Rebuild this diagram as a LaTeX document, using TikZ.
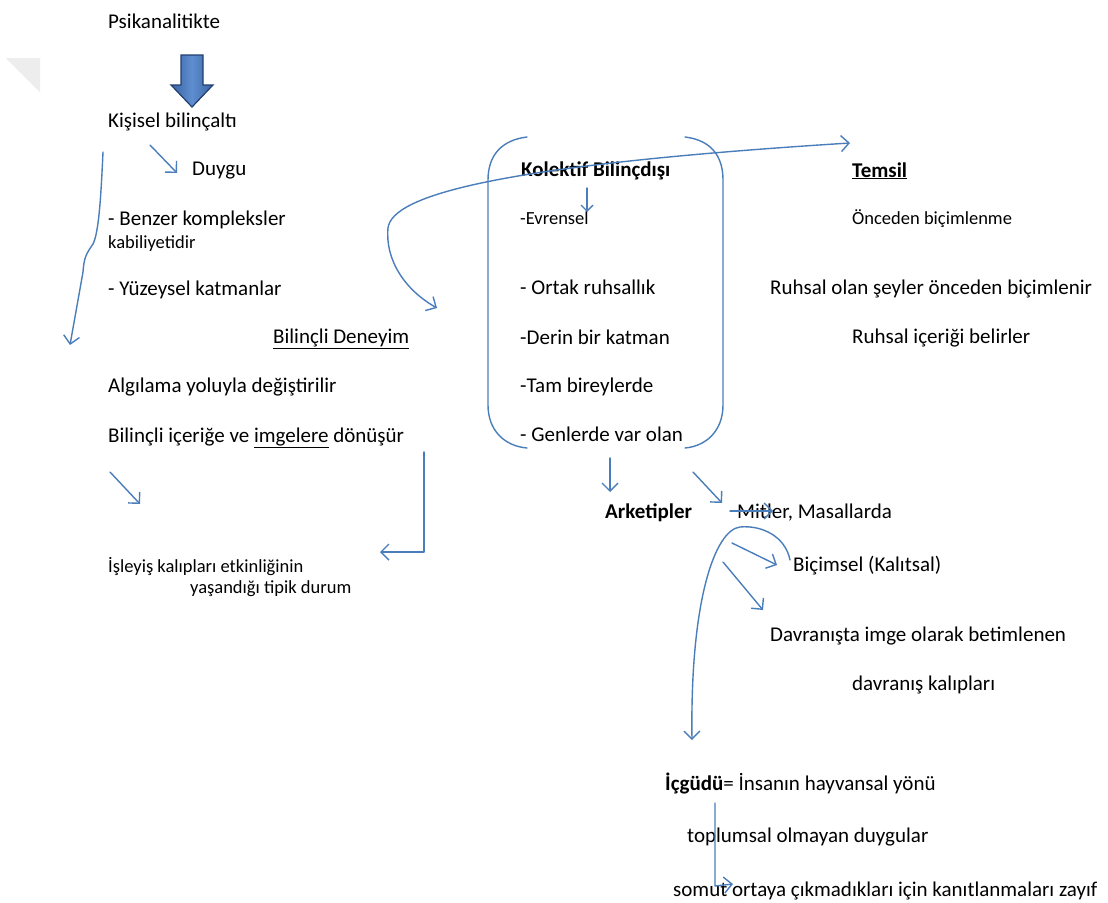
\documentclass[tikz,border=0pt]{standalone}
\usepackage{fontspec}
\setmainfont{Carlito}
\usetikzlibrary{arrows.meta}
\definecolor{penblue}{HTML}{4A7EBB}
\definecolor{arrowdark}{HTML}{213F6E}
\definecolor{arrowmid}{HTML}{3A64A3}
\definecolor{arrowlight}{HTML}{5F8ED0}
\definecolor{curl}{HTML}{EDEDED}
\begin{document}
\begin{tikzpicture}[x=1pt,y=-1pt,
  txt/.style={anchor=base west, inner sep=0pt, font=\fontsize{21}{25}\selectfont, text=black},
  sml/.style={txt, font=\fontsize{18.5}{22}\selectfont},
  pen/.style={draw=penblue, line width=1.4pt, line cap=round, line join=round},
  arr/.style={pen, -{Straight Barb[length=8pt,width=16pt]}},
  dbl/.style={pen, {Straight Barb[length=8pt,width=16pt]}-{Straight Barb[length=8pt,width=16pt]}}]

\useasboundingbox (0,0) rectangle (1108,902);
\fill[white] (0,0) rectangle (1108,902);

% faint page corner
\fill[curl] (6,58) -- (40,58) -- (40,92) -- cycle;

% ---------- left column ----------
\node[txt] (psi) at (108,28) {Psikanalitikte};
\path[draw=arrowdark, line width=1.2pt, left color=arrowmid, right color=arrowmid, middle color=arrowlight]
  (181,55) -- (203,55) -- (203,85) -- (213,85) -- (192,107) -- (171,85) -- (181,85) -- cycle;
\node[txt] (kis) at (108,127) {Kişisel bilinçaltı};
\node[txt] (duy) at (192,175) {Duygu};
\node[txt] (ben) at (108,225) {- Benzer kompleksler};
\node[sml] (kab) at (108,248) {kabiliyetidir};
\node[txt] (yuz) at (108,295) {- Yüzeysel katmanlar};
\node[txt] (bde) at (273,343) {\underline{Bilinçli Deneyim}};
\node[txt] (alg) at (108,392) {Algılama yoluyla değiştirilir};
\node[txt] (bic) at (108,442) {Bilinçli içeriğe ve \underline{imgelere} dönüşür};
\node[sml] (isl) at (108,572) {İşleyiş kalıpları etkinliğinin};
\node[sml] (yas) at (190,593) {yaşandığı tipik durum};

% ---------- middle column ----------
\node[txt, font=\fontsize{21}{25}\selectfont\bfseries] (kol) at (521,176) {Kolektif Bilinçdışı};
\node[sml] (evr) at (520,224) {-Evrensel};
\node[txt] (ort) at (520,294) {- Ortak ruhsallık};
\node[txt] (der) at (520,344) {-Derin bir katman};
\node[txt] (tam) at (520,392) {-Tam bireylerde};
\node[txt] (gen) at (520,441) {- Genlerde var olan};
\node[txt, font=\fontsize{21}{25}\selectfont\bfseries] (ark) at (605,518) {Arketipler};
\node[txt] (mit) at (737,518) {Mitler, Masallarda};
\node[txt] (bcm) at (793,571) {Biçimsel (Kalıtsal)};
\node[txt] (dav) at (770,641) {Davranışta imge olarak betimlenen};
\node[txt] (dvk) at (852,690) {davranış kalıpları};
\node[txt] (icg) at (665,790) {\textbf{İçgüdü}= İnsanın hayvansal yönü};
\node[txt] (top) at (687,842) {toplumsal olmayan duygular};
\node[txt] (som) at (673,896) {somut ortaya çıkmadıkları için kanıtlanmaları zayıf};

% ---------- right column ----------
\node[txt, font=\fontsize{21}{25}\selectfont\bfseries] (tem) at (852,177) {\underline{Temsil}};
\node[sml] (onc) at (852,224) {Önceden biçimlenme};
\node[txt] (ruh) at (770,294) {Ruhsal olan şeyler önceden biçimlenir};
\node[txt] (rui) at (852,343) {Ruhsal içeriği belirler};

% ---------- bracket around the collective column ----------
\draw[pen] (527,137) .. controls (502,140) and (488,155) .. (488,180) -- (488,405)
  .. controls (488,430) and (504,446) .. (527,448);
\draw[pen] (685,137) .. controls (710,140) and (723,155) .. (723,180) -- (723,405)
  .. controls (723,430) and (707,446) .. (685,448);

% ---------- connector end points ----------
\coordinate (duyA) at (150,145);  \coordinate (duyB) at (177,173);
\coordinate (lbA) at (103,152);   \coordinate (lbB) at (70,345);
\coordinate (dgA) at (110,472);   \coordinate (dgB) at (140,504);
\coordinate (lA) at (424,452);    \coordinate (lC) at (424,552);  \coordinate (lB) at (380,552);
\coordinate (evA) at (587,188);   \coordinate (evB) at (587,212);
\coordinate (swA) at (437,308);   \coordinate (swL) at (388,228); \coordinate (swB) at (850,143);
\coordinate (arA) at (610,458);   \coordinate (arB) at (610,492);
\coordinate (mtA) at (693,472);   \coordinate (mtB) at (722,503);
\coordinate (ssA) at (730,511);   \coordinate (ssB) at (773,511);
\coordinate (hkA) at (790,560);   \coordinate (hkT) at (740,527); \coordinate (hkB) at (692,740);
\coordinate (b1A) at (732,543);   \coordinate (b1B) at (777,565);
\coordinate (b2A) at (723,562);   \coordinate (b2B) at (763,610);
\coordinate (vA) at (715,803);    \coordinate (vC) at (715,886);  \coordinate (vB) at (733,884);

% ---------- connectors ----------
\draw[arr] (duyA) -- (duyB);
\draw[arr] (lbA) .. controls (101,195) and (99,232) .. (93,244)
  .. controls (86,254) and (84,258) .. (83,272) -- (lbB);
\draw[arr] (dgA) -- (dgB);
\draw[arr] (lA) -- (lC) -- (lB);
\draw[pen, -{Straight Barb[length=6pt,width=12pt]}] (evA) -- (evB);
\draw[dbl] (swA) .. controls (405,290) and (385,260) .. (swL)
  .. controls (392,195) and (500,165) .. (swB);
\draw[arr] (arA) -- (arB);
\draw[arr] (mtA) -- (mtB);
\draw[arr] (ssA) -- (ssB);
\draw[arr] (hkA) .. controls (785,535) and (760,525) .. (hkT)
  .. controls (715,530) and (690,600) .. (hkB);
\draw[arr] (b1A) -- (b1B);
\draw[arr] (b2A) -- (b2B);
\draw[arr] (vA) -- (vC) -- (vB);
\end{tikzpicture}
\end{document}
